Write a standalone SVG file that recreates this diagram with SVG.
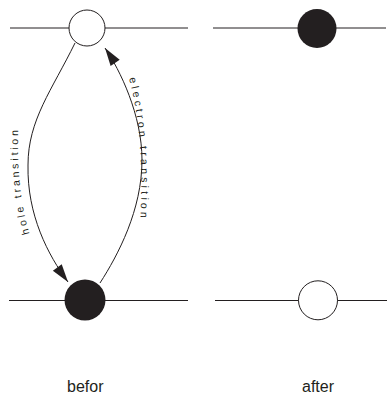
<svg xmlns="http://www.w3.org/2000/svg" width="387" height="396" viewBox="0 0 387 396">
<style>
.lvl{stroke:#231f20;stroke-width:1;fill:none}
.open{fill:#ffffff;stroke:#231f20;stroke-width:1}
.full{fill:#231f20;stroke:none}
.conn{fill:none;stroke:#231f20;stroke-width:1}
.lbl{font-family:"Liberation Sans",Arial,sans-serif;font-size:10.5px;fill:#231f20}
.cap{font-family:"Liberation Sans",Arial,sans-serif;font-size:16px;fill:#231f20;text-anchor:middle}
</style>
<defs>
<marker id="arr" markerUnits="userSpaceOnUse" markerWidth="20" markerHeight="12" refX="18" refY="6" orient="auto" overflow="visible">
<path d="M0,0.5 L18,6 L0,11.5 Z" fill="#231f20"/>
</marker>
<path id="holePath" d="M33,245 Q14,190 19,115"/>
<path id="elecPath" d="M124,62 Q146,125 140,225"/>
</defs>
<g id="before-top">
<line class="lvl" x1="10" y1="28" x2="188" y2="28"/>
<circle class="open" cx="87" cy="28" r="18"/>
</g>
<g id="before-bottom">
<line class="lvl" x1="9" y1="300.5" x2="188" y2="300.5"/>
<circle class="full" cx="85" cy="300" r="20.5"/>
</g>
<g id="after-top">
<line class="lvl" x1="213" y1="28" x2="386" y2="28"/>
<circle class="full" cx="317" cy="28.5" r="19.5"/>
</g>
<g id="after-bottom">
<line class="lvl" x1="215" y1="300.5" x2="387" y2="300.5"/>
<circle class="open" cx="318" cy="300.3" r="19.5"/>
</g>
<g id="connectors">
<path id="hole" class="conn" d="M75,43 C52,90 28,120 28,165 C27,215 48,255 68,282" marker-end="url(#arr)"/>
<path id="electron" class="conn" d="M100,283 C118,255 142,210 142,160 C142,115 120,70 105,48" marker-end="url(#arr)"/>
<text class="lbl" letter-spacing="2.8"><textPath href="#holePath" startOffset="12">hole transition</textPath></text>
<text class="lbl" letter-spacing="3.2"><textPath href="#elecPath" startOffset="17">electron transition</textPath></text>
</g>
<g id="captions">
<text class="cap" x="85.3" y="392">befor</text>
<text class="cap" x="318" y="392">after</text>
</g>
</svg>
